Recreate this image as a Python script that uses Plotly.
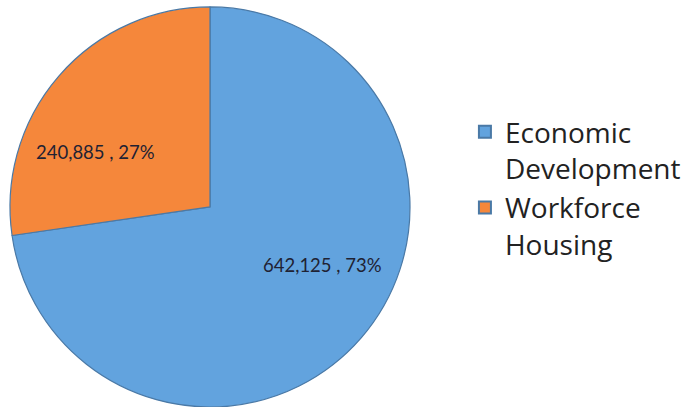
import plotly.graph_objects as go

# Funding split by program
categories = ["Economic<br>Development", "Workforce<br>Housing"]
amounts = [642125, 240885]
shares = ["73%", "27%"]
slice_colors = ["#62a3de", "#f5873b"]

# Data-label anchor points (paper coordinates), one per slice
label_pos = [(0.463, 0.349), (0.137, 0.627)]

fig = go.Figure()

fig.add_trace(go.Pie(
    labels=categories,
    values=amounts,
    textinfo="none",
    marker=dict(colors=slice_colors, line=dict(color="#4a79a6", width=1.2)),
    sort=False,
    direction="clockwise",
    rotation=0,
    showlegend=True,
    domain=dict(x=[10 / 696, 410 / 696], y=[0.0, 0.983]),
    hoverinfo="skip",
))

for amt, share, (px, py) in zip(amounts, shares, label_pos):
    fig.add_annotation(
        x=px, y=py, xref="paper", yref="paper",
        text=f"{amt:,} , {share}",
        showarrow=False,
        xanchor="center", yanchor="middle",
        font=dict(family="Lato, Carlito, sans-serif", size=18.5, color="#1f2233"),
    )

fig.update_layout(
    width=696,
    height=407,
    margin=dict(l=0, r=0, t=0, b=0),
    paper_bgcolor="white",
    plot_bgcolor="white",
    legend=dict(
        x=0.668,
        y=0.737,
        xanchor="left",
        yanchor="top",
        valign="top",
        font=dict(family="Open Sans, sans-serif", size=28, color="#222222"),
        tracegroupgap=18,
        itemsizing="constant",
        bgcolor="rgba(0,0,0,0)",
    ),
)

fig.write_html("out.html")
